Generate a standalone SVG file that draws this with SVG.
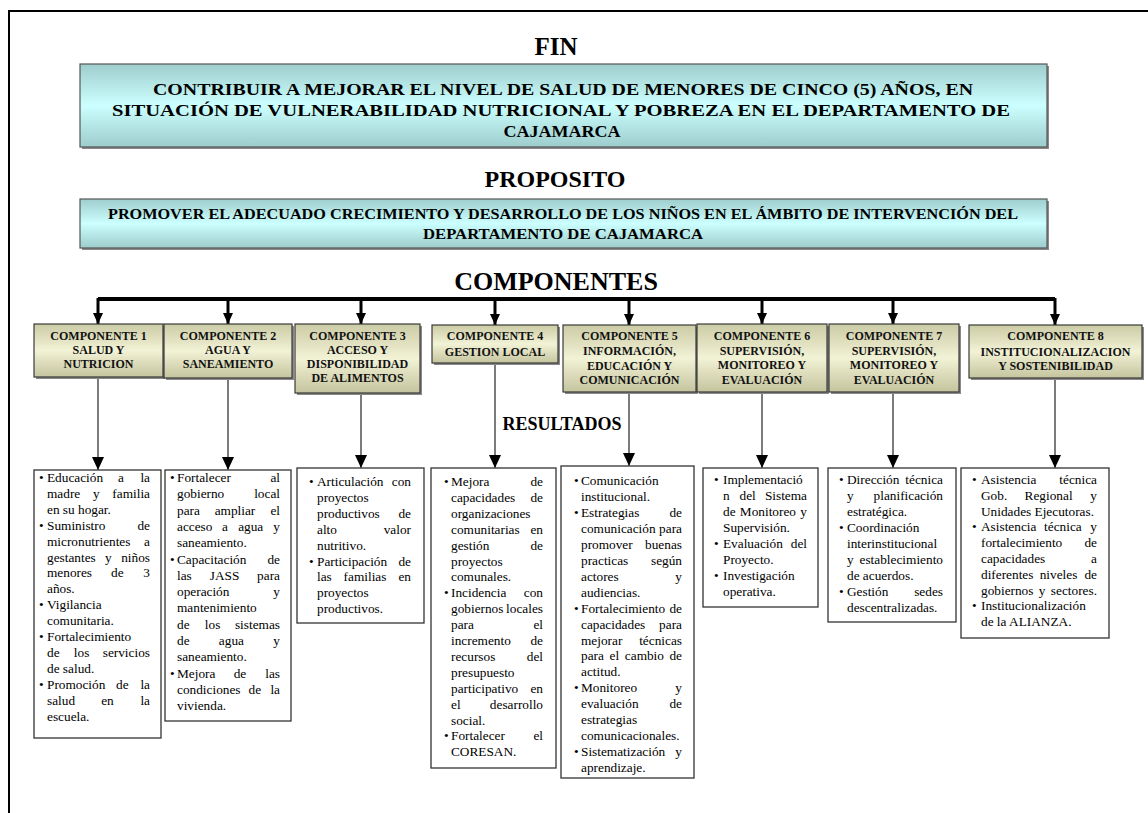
<svg xmlns="http://www.w3.org/2000/svg" width="1148" height="813" viewBox="0 0 1148 813">
<style>
.ser{font-family:"Liberation Serif","Times New Roman",serif}
.h{font-family:"Liberation Serif","Times New Roman",serif;font-weight:bold;text-anchor:middle;fill:#000}
.bt{font-family:"Liberation Serif","Times New Roman",serif;font-weight:bold;font-size:12px;text-anchor:middle;fill:#111}
.t{font-family:"Liberation Serif","Times New Roman",serif;font-size:13.3px;fill:#000}
.rb{fill:#fff;stroke:#333;stroke-width:1.3}
.cb{fill:url(#khaki);stroke:#3a3a3a;stroke-width:1.2}
.sh{fill:#8a8a8a}
.gb{fill:url(#cyan);stroke:#555;stroke-width:1.2}
.bus{stroke:#000;stroke-width:4;fill:none}
.drop{stroke:#000;stroke-width:3;fill:none;marker-end:url(#ah2)}
.conn{stroke:#444;stroke-width:1.4;fill:none;marker-end:url(#ah)}
</style>
<defs>
<linearGradient id="cyan" x1="0" y1="0" x2="0" y2="1">
<stop offset="0" stop-color="#9fcdcd"/><stop offset="0.5" stop-color="#ccffff"/><stop offset="1" stop-color="#9dcccc"/>
</linearGradient>
<linearGradient id="khaki" x1="0" y1="0" x2="0" y2="1">
<stop offset="0" stop-color="#cbcba5"/><stop offset="0.5" stop-color="#f2f2d6"/><stop offset="1" stop-color="#c4c49e"/>
</linearGradient>
<marker id="ah" markerUnits="userSpaceOnUse" markerWidth="12" markerHeight="13" refX="13" refY="6" orient="auto">
<path d="M0,0 L13,6 L0,12 z" fill="#000"/>
</marker>
<marker id="ah2" markerUnits="userSpaceOnUse" markerWidth="11" markerHeight="10" refX="11" refY="5" orient="auto">
<path d="M0,0 L11,5 L0,10 z" fill="#000"/>
</marker>
</defs>
<rect width="1148" height="813" fill="#fff"/>
<path d="M9,813 V11 H1148" fill="none" stroke="#000" stroke-width="2"/>

<g id="fin">
<text class="h" x="556" y="55" font-size="25">FIN</text>
<rect class="sh" x="82" y="66" width="967" height="83"/>
<rect class="gb" x="80" y="64" width="967" height="83"/>
<text class="h" x="563" y="95" font-size="17" textLength="820" lengthAdjust="spacingAndGlyphs">CONTRIBUIR A MEJORAR EL NIVEL DE SALUD DE MENORES DE CINCO (5) AÑOS, EN</text>
<text class="h" x="561" y="116" font-size="17" textLength="898" lengthAdjust="spacingAndGlyphs">SITUACIÓN DE VULNERABILIDAD NUTRICIONAL Y POBREZA EN EL DEPARTAMENTO DE</text>
<text class="h" x="562" y="137" font-size="17" textLength="117" lengthAdjust="spacingAndGlyphs">CAJAMARCA</text>
</g>

<g id="proposito">
<text class="h" x="555" y="187" font-size="24">PROPOSITO</text>
<rect class="sh" x="82" y="201" width="967" height="49"/>
<rect class="gb" x="80" y="199" width="967" height="49"/>
<text class="h" x="563" y="219" font-size="15" textLength="910" lengthAdjust="spacingAndGlyphs">PROMOVER EL ADECUADO CRECIMIENTO Y DESARROLLO DE LOS NIÑOS EN EL ÁMBITO DE INTERVENCIÓN DEL</text>
<text class="h" x="563" y="239" font-size="15" textLength="280" lengthAdjust="spacingAndGlyphs">DEPARTAMENTO DE CAJAMARCA</text>
</g>

<g id="componentes-title">
<text class="h" x="556" y="290" font-size="26">COMPONENTES</text>
</g>

<g id="connectors">
<path class="bus" d="M98,299 H1055"/>
<path class="drop" d="M98,298 V324"/>
<path class="drop" d="M228,299 V324"/>
<path class="drop" d="M361,299 V324"/>
<path class="drop" d="M495,299 V325"/>
<path class="drop" d="M629,299 V325"/>
<path class="drop" d="M762,299 V324"/>
<path class="drop" d="M893,299 V324"/>
<path class="drop" d="M1055,298 V325"/>
<path class="conn" d="M98,377 V470"/>
<path class="conn" d="M228,378 V470"/>
<path class="conn" d="M361,393 V468"/>
<path class="conn" d="M495,363 V468"/>
<path class="conn" d="M629,392 V466"/>
<path class="conn" d="M762,392 V468"/>
<path class="conn" d="M893,392 V468"/>
<path class="conn" d="M1055,378 V468"/>
</g>

<g id="comp1">
<rect class="sh" x="36" y="326" width="129" height="53"/>
<rect class="cb" x="34" y="324" width="129" height="53"/>
<text class="bt" x="98.5" y="339.5">COMPONENTE 1</text>
<text class="bt" x="98.5" y="353.5">SALUD Y</text>
<text class="bt" x="98.5" y="367.5">NUTRICION</text>
</g>
<g id="comp2">
<rect class="sh" x="166" y="326" width="128" height="54"/>
<rect class="cb" x="164" y="324" width="128" height="54"/>
<text class="bt" x="228" y="339.5">COMPONENTE 2</text>
<text class="bt" x="228" y="353.5">AGUA Y</text>
<text class="bt" x="228" y="367.5">SANEAMIENTO</text>
</g>
<g id="comp3">
<rect class="sh" x="297" y="326" width="125" height="69"/>
<rect class="cb" x="295" y="324" width="125" height="69"/>
<text class="bt" x="357.5" y="339.5">COMPONENTE 3</text>
<text class="bt" x="357.5" y="353.5">ACCESO Y</text>
<text class="bt" x="357.5" y="367.5">DISPONIBILIDAD</text>
<text class="bt" x="357.5" y="381.5">DE ALIMENTOS</text>
</g>
<g id="comp4">
<rect class="sh" x="434" y="327" width="126" height="38"/>
<rect class="cb" x="432" y="325" width="126" height="38"/>
<text class="bt" x="495" y="340">COMPONENTE 4</text>
<text class="bt" x="495" y="356">GESTION LOCAL</text>
</g>
<g id="comp5">
<rect class="sh" x="565" y="327" width="133" height="67"/>
<rect class="cb" x="563" y="325" width="133" height="67"/>
<text class="bt" x="629.5" y="340">COMPONENTE 5</text>
<text class="bt" x="629.5" y="355">INFORMACIÓN,</text>
<text class="bt" x="629.5" y="369.5">EDUCACIÓN Y</text>
<text class="bt" x="629.5" y="384">COMUNICACIÓN</text>
</g>
<g id="comp6">
<rect class="sh" x="699" y="326" width="130" height="68"/>
<rect class="cb" x="697" y="324" width="130" height="68"/>
<text class="bt" x="762" y="339.5">COMPONENTE 6</text>
<text class="bt" x="762" y="355">SUPERVISIÓN,</text>
<text class="bt" x="762" y="369">MONITOREO Y</text>
<text class="bt" x="762" y="383.5">EVALUACIÓN</text>
</g>
<g id="comp7">
<rect class="sh" x="831" y="326" width="130" height="68"/>
<rect class="cb" x="829" y="324" width="130" height="68"/>
<text class="bt" x="894" y="340">COMPONENTE 7</text>
<text class="bt" x="894" y="355">SUPERVISIÓN,</text>
<text class="bt" x="894" y="369">MONITOREO Y</text>
<text class="bt" x="894" y="383.5">EVALUACIÓN</text>
</g>
<g id="comp8">
<rect class="sh" x="971" y="327" width="173" height="53"/>
<rect class="cb" x="969" y="325" width="173" height="53"/>
<text class="bt" x="1055.5" y="340">COMPONENTE 8</text>
<text class="bt" x="1055.5" y="356">INSTITUCIONALIZACION</text>
<text class="bt" x="1055.5" y="370">Y SOSTENIBILIDAD</text>
</g>

<g id="resultados-title">
<text class="h" x="562" y="430" font-size="18">RESULTADOS</text>
</g>

<g id="res1" class="t">
<rect class="rb" x="34" y="470" width="127" height="268"/>
<text y="482"><tspan x="39">•</tspan><tspan x="47">Educación</tspan><tspan x="121" text-anchor="middle">a</tspan><tspan x="150" text-anchor="end">la</tspan></text>
<text y="497.9"><tspan x="47">madre</tspan><tspan x="96.4" text-anchor="middle">y</tspan><tspan x="150" text-anchor="end">familia</tspan></text>
<text y="513.8" x="47">en su hogar.</text>
<text y="529.7"><tspan x="39">•</tspan><tspan x="47">Suministro</tspan><tspan x="150" text-anchor="end">de</tspan></text>
<text y="545.6"><tspan x="47">micronutrientes</tspan><tspan x="150" text-anchor="end">a</tspan></text>
<text y="561.5"><tspan x="47">gestantes</tspan><tspan x="108.3" text-anchor="middle">y</tspan><tspan x="150" text-anchor="end">niños</tspan></text>
<text y="577.4"><tspan x="47">menores</tspan><tspan x="117.3" text-anchor="middle">de</tspan><tspan x="150" text-anchor="end">3</tspan></text>
<text y="593.3" x="47">años.</text>
<text y="609.2"><tspan x="39">•</tspan><tspan x="47">Vigilancia</tspan></text>
<text y="625.1" x="47">comunitaria.</text>
<text y="641"><tspan x="39">•</tspan><tspan x="47">Fortalecimiento</tspan></text>
<text y="656.9"><tspan x="47">de</tspan><tspan x="81.6" text-anchor="middle">los</tspan><tspan x="150" text-anchor="end">servicios</tspan></text>
<text y="672.8" x="47">de salud.</text>
<text y="688.7"><tspan x="39">•</tspan><tspan x="47">Promoción</tspan><tspan x="122.3" text-anchor="middle">de</tspan><tspan x="150" text-anchor="end">la</tspan></text>
<text y="704.6"><tspan x="47">salud</tspan><tspan x="107.5" text-anchor="middle">en</tspan><tspan x="150" text-anchor="end">la</tspan></text>
<text y="720.5" x="47">escuela.</text>
</g>

<g id="res2" class="t">
<rect class="rb" x="165" y="470" width="126" height="251"/>
<text y="482"><tspan x="170">•</tspan><tspan x="177">Fortalecer</tspan><tspan x="280" text-anchor="end">al</tspan></text>
<text y="498.3"><tspan x="177">gobierno</tspan><tspan x="280" text-anchor="end">local</tspan></text>
<text y="514.6"><tspan x="177">para</tspan><tspan x="235" text-anchor="middle">ampliar</tspan><tspan x="280" text-anchor="end">el</tspan></text>
<text y="530.9"><tspan x="177">acceso</tspan><tspan x="225" text-anchor="middle">a</tspan><tspan x="250.7" text-anchor="middle">agua</tspan><tspan x="280" text-anchor="end">y</tspan></text>
<text y="547.2" x="177">saneamiento.</text>
<text y="563.5"><tspan x="170">•</tspan><tspan x="177">Capacitación</tspan><tspan x="280" text-anchor="end">de</tspan></text>
<text y="579.8"><tspan x="177">las</tspan><tspan x="224.5" text-anchor="middle">JASS</tspan><tspan x="280" text-anchor="end">para</tspan></text>
<text y="596.1"><tspan x="177">operación</tspan><tspan x="280" text-anchor="end">y</tspan></text>
<text y="612.4" x="177">mantenimiento</text>
<text y="628.7"><tspan x="177">de</tspan><tspan x="212.6" text-anchor="middle">los</tspan><tspan x="280" text-anchor="end">sistemas</tspan></text>
<text y="645"><tspan x="177">de</tspan><tspan x="231.4" text-anchor="middle">agua</tspan><tspan x="280" text-anchor="end">y</tspan></text>
<text y="661.3" x="177">saneamiento.</text>
<text y="677.6"><tspan x="170">•</tspan><tspan x="177">Mejora</tspan><tspan x="240" text-anchor="middle">de</tspan><tspan x="280" text-anchor="end">las</tspan></text>
<text y="693.9"><tspan x="177">condiciones</tspan><tspan x="254.9" text-anchor="middle">de</tspan><tspan x="280" text-anchor="end">la</tspan></text>
<text y="710.2" x="177">vivienda.</text>
</g>

<g id="res3" class="t">
<rect class="rb" x="297" y="468" width="127" height="155"/>
<text y="486"><tspan x="309">•</tspan><tspan x="317">Articulación</tspan><tspan x="411" text-anchor="end">con</tspan></text>
<text y="501.9" x="317">proyectos</text>
<text y="517.8"><tspan x="317">productivos</tspan><tspan x="411" text-anchor="end">de</tspan></text>
<text y="533.7"><tspan x="317">alto</tspan><tspan x="411" text-anchor="end">valor</tspan></text>
<text y="549.6" x="317">nutritivo.</text>
<text y="565.5"><tspan x="309">•</tspan><tspan x="317">Participación</tspan><tspan x="411" text-anchor="end">de</tspan></text>
<text y="581.4"><tspan x="317">las</tspan><tspan x="365" text-anchor="middle">familias</tspan><tspan x="411" text-anchor="end">en</tspan></text>
<text y="597.3" x="317">proyectos</text>
<text y="613.2" x="317">productivos.</text>
</g>

<g id="res4" class="t">
<rect class="rb" x="431" y="468" width="125" height="300"/>
<text y="486"><tspan x="444">•</tspan><tspan x="451">Mejora</tspan><tspan x="543" text-anchor="end">de</tspan></text>
<text y="501.9"><tspan x="451">capacidades</tspan><tspan x="543" text-anchor="end">de</tspan></text>
<text y="517.8" x="451">organizaciones</text>
<text y="533.7"><tspan x="451">comunitarias</tspan><tspan x="543" text-anchor="end">en</tspan></text>
<text y="549.6"><tspan x="451">gestión</tspan><tspan x="543" text-anchor="end">de</tspan></text>
<text y="565.5" x="451">proyectos</text>
<text y="581.4" x="451">comunales.</text>
<text y="597.3"><tspan x="444">•</tspan><tspan x="451">Incidencia</tspan><tspan x="543" text-anchor="end">con</tspan></text>
<text y="613.2"><tspan x="451">gobiernos</tspan><tspan x="543" text-anchor="end">locales</tspan></text>
<text y="629.1"><tspan x="451">para</tspan><tspan x="543" text-anchor="end">el</tspan></text>
<text y="645"><tspan x="451">incremento</tspan><tspan x="543" text-anchor="end">de</tspan></text>
<text y="660.9"><tspan x="451">recursos</tspan><tspan x="543" text-anchor="end">del</tspan></text>
<text y="676.8" x="451">presupuesto</text>
<text y="692.7"><tspan x="451">participativo</tspan><tspan x="543" text-anchor="end">en</tspan></text>
<text y="708.6"><tspan x="451">el</tspan><tspan x="543" text-anchor="end">desarrollo</tspan></text>
<text y="724.5" x="451">social.</text>
<text y="740.4"><tspan x="444">•</tspan><tspan x="451">Fortalecer</tspan><tspan x="543" text-anchor="end">el</tspan></text>
<text y="756.3" x="451">CORESAN.</text>
</g>

<g id="res5" class="t">
<rect class="rb" x="561" y="466" width="133" height="312"/>
<text y="485"><tspan x="574">•</tspan><tspan x="581">Comunicación</tspan></text>
<text y="500.95" x="581">institucional.</text>
<text y="516.9"><tspan x="574">•</tspan><tspan x="581">Estrategias</tspan><tspan x="682" text-anchor="end">de</tspan></text>
<text y="532.85"><tspan x="581">comunicación</tspan><tspan x="682" text-anchor="end">para</tspan></text>
<text y="548.8"><tspan x="581">promover</tspan><tspan x="682" text-anchor="end">buenas</tspan></text>
<text y="564.75"><tspan x="581">practicas</tspan><tspan x="682" text-anchor="end">según</tspan></text>
<text y="580.7"><tspan x="581">actores</tspan><tspan x="682" text-anchor="end">y</tspan></text>
<text y="596.65" x="581">audiencias.</text>
<text y="612.6"><tspan x="574">•</tspan><tspan x="581">Fortalecimiento</tspan><tspan x="682" text-anchor="end">de</tspan></text>
<text y="628.55"><tspan x="581">capacidades</tspan><tspan x="682" text-anchor="end">para</tspan></text>
<text y="644.5"><tspan x="581">mejorar</tspan><tspan x="682" text-anchor="end">técnicas</tspan></text>
<text y="660.45"><tspan x="581">para</tspan><tspan x="614.3" text-anchor="middle">el</tspan><tspan x="644.4" text-anchor="middle">cambio</tspan><tspan x="682" text-anchor="end">de</tspan></text>
<text y="676.4" x="581">actitud.</text>
<text y="692.35"><tspan x="574">•</tspan><tspan x="581">Monitoreo</tspan><tspan x="682" text-anchor="end">y</tspan></text>
<text y="708.3"><tspan x="581">evaluación</tspan><tspan x="682" text-anchor="end">de</tspan></text>
<text y="724.25" x="581">estrategias</text>
<text y="740.2" x="581">comunicacionales.</text>
<text y="756.15"><tspan x="574">•</tspan><tspan x="581">Sistematización</tspan><tspan x="682" text-anchor="end">y</tspan></text>
<text y="772.1" x="581">aprendizaje.</text>
</g>

<g id="res6" class="t">
<rect class="rb" x="703" y="468" width="115" height="139"/>
<text y="484"><tspan x="714">•</tspan><tspan x="723">Implementació</tspan></text>
<text y="500"><tspan x="723">n</tspan><tspan x="747.7" text-anchor="middle">del</tspan><tspan x="807" text-anchor="end">Sistema</tspan></text>
<text y="516"><tspan x="723">de</tspan><tspan x="767.9" text-anchor="middle">Monitoreo</tspan><tspan x="807" text-anchor="end">y</tspan></text>
<text y="532" x="723">Supervisión.</text>
<text y="548"><tspan x="714">•</tspan><tspan x="723">Evaluación</tspan><tspan x="807" text-anchor="end">del</tspan></text>
<text y="564" x="723">Proyecto.</text>
<text y="580"><tspan x="714">•</tspan><tspan x="723">Investigación</tspan></text>
<text y="596" x="723">operativa.</text>
</g>

<g id="res7" class="t">
<rect class="rb" x="828" y="468" width="128" height="154"/>
<text y="484"><tspan x="839">•</tspan><tspan x="847">Dirección</tspan><tspan x="943" text-anchor="end">técnica</tspan></text>
<text y="500"><tspan x="847">y</tspan><tspan x="943" text-anchor="end">planificación</tspan></text>
<text y="516" x="847">estratégica.</text>
<text y="532"><tspan x="839">•</tspan><tspan x="847">Coordinación</tspan></text>
<text y="548" x="847">interinstitucional</text>
<text y="564"><tspan x="847">y</tspan><tspan x="943" text-anchor="end">establecimiento</tspan></text>
<text y="580" x="847">de acuerdos.</text>
<text y="596"><tspan x="839">•</tspan><tspan x="847">Gestión</tspan><tspan x="943" text-anchor="end">sedes</tspan></text>
<text y="612" x="847">descentralizadas.</text>
</g>

<g id="res8" class="t">
<rect class="rb" x="961" y="468" width="148" height="170"/>
<text y="484"><tspan x="972">•</tspan><tspan x="981">Asistencia</tspan><tspan x="1097" text-anchor="end">técnica</tspan></text>
<text y="499.8"><tspan x="981">Gob.</tspan><tspan x="1048.6" text-anchor="middle">Regional</tspan><tspan x="1097" text-anchor="end">y</tspan></text>
<text y="515.6" x="981">Unidades Ejecutoras.</text>
<text y="531.4"><tspan x="972">•</tspan><tspan x="981">Asistencia</tspan><tspan x="1062.9" text-anchor="middle">técnica</tspan><tspan x="1097" text-anchor="end">y</tspan></text>
<text y="547.2"><tspan x="981">fortalecimiento</tspan><tspan x="1097" text-anchor="end">de</tspan></text>
<text y="563"><tspan x="981">capacidades</tspan><tspan x="1097" text-anchor="end">a</tspan></text>
<text y="578.8"><tspan x="981">diferentes</tspan><tspan x="1058.5" text-anchor="middle">niveles</tspan><tspan x="1097" text-anchor="end">de</tspan></text>
<text y="594.6"><tspan x="981">gobiernos</tspan><tspan x="1042.1" text-anchor="middle">y</tspan><tspan x="1097" text-anchor="end">sectores.</tspan></text>
<text y="610.4"><tspan x="972">•</tspan><tspan x="981">Institucionalización</tspan></text>
<text y="626.2" x="981">de la ALIANZA.</text>
</g>
</svg>
